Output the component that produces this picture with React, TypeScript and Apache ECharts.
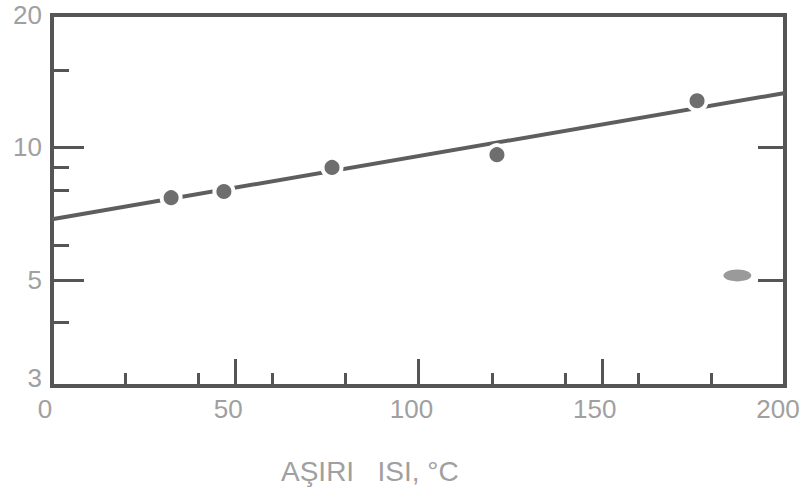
import React, { useEffect, useRef } from "react";
import * as echarts from "echarts";

// x: aşırı ısı (°C), y: logarithmic values
const trendX = [0, 200];
const trendY = [6.87, 13.3];
const pointX = [32.5, 46.9, 76.4, 121.4, 176];
const pointY = [7.69, 7.94, 9.01, 9.63, 12.77];
const smudgeX = [187];
const smudgeY = [5.12];

const yLabelValues = [3, 5, 10, 20];
const yLongTicks = [5, 10];
const yShortTicks = [4, 6, 8, 9, 15];
const yRightTicks = [5, 10];
const xLabelValues = [0, 50, 100, 150, 200];
const xLongTicks = [50, 100, 150];
const xShortTicks = [20, 40, 60, 80, 120, 140, 160, 180];
const xTitle = "AŞIRI   ISI, °C";

const Y_MIN = 2.87;
const Y_MAX = 20;
const lg = (v: number) => Math.log10(v);

const axisColor = "#555";
const textColor = "#a0a0a0";
const font = "Liberation Sans";

export default function App() {
  const ref = useRef<HTMLDivElement>(null);
  useEffect(() => {
    if (!ref.current) return;
    const chart = echarts.init(ref.current, undefined, { renderer: "svg" });
    const yBase = {
      type: "value" as const,
      min: lg(Y_MIN),
      max: lg(Y_MAX),
      splitLine: { show: false },
      axisLine: { show: false },
    };
    const xBase = {
      type: "value" as const,
      min: 0,
      max: 200,
      splitLine: { show: false },
      axisLine: { show: false },
      position: "bottom" as const,
    };
    chart.setOption({
      animation: false,
      backgroundColor: "#ffffff",
      title: {
        text: xTitle,
        left: 276,
        top: 452,
        textStyle: { color: textColor, fontFamily: font, fontSize: 28, fontWeight: "normal" },
      },
      grid: {
        left: 52,
        right: 18,
        top: 15,
        bottom: 106,
        show: true,
        borderColor: axisColor,
        borderWidth: 4,
        backgroundColor: "transparent",
      },
      xAxis: [
        {
          ...xBase,
          axisTick: {
            show: true,
            inside: true,
            length: 27,
            customValues: xLongTicks,
            lineStyle: { color: axisColor, width: 3 },
          },
          axisLabel: {
            show: true,
            customValues: xLabelValues,
            color: textColor,
            fontFamily: font,
            fontSize: 26,
            margin: 10,
            padding: [0, 14, 0, 0],
          },
        },
        {
          ...xBase,
          axisTick: {
            show: true,
            inside: true,
            length: 13,
            customValues: xShortTicks,
            lineStyle: { color: axisColor, width: 3 },
          },
          axisLabel: { show: false },
        },
      ],
      yAxis: [
        {
          ...yBase,
          position: "left",
          axisTick: {
            show: true,
            inside: true,
            length: 32,
            customValues: yLongTicks.map(lg),
            lineStyle: { color: axisColor, width: 3 },
          },
          axisLabel: {
            show: true,
            customValues: yLabelValues.map(lg),
            formatter: (v: number) => String(Math.round(Math.pow(10, v))),
            color: textColor,
            fontFamily: font,
            fontSize: 26,
            margin: 10,
          },
        },
        {
          ...yBase,
          position: "left",
          axisTick: {
            show: true,
            inside: true,
            length: 17,
            customValues: yShortTicks.map(lg),
            lineStyle: { color: axisColor, width: 3 },
          },
          axisLabel: { show: false },
        },
        {
          ...yBase,
          position: "right",
          axisTick: {
            show: true,
            inside: true,
            length: 27,
            customValues: yRightTicks.map(lg),
            lineStyle: { color: axisColor, width: 3 },
          },
          axisLabel: { show: false },
        },
      ],
      series: [
        {
          type: "line",
          name: "trend",
          xAxisIndex: 0,
          yAxisIndex: 0,
          data: trendX.map((x, i) => [x, lg(trendY[i])]),
          symbol: "none",
          lineStyle: { color: "#5e5e5e", width: 4 },
          z: 2,
        },
        {
          type: "scatter",
          name: "ölçüm",
          xAxisIndex: 0,
          yAxisIndex: 0,
          data: pointX.map((x, i) => [x, lg(pointY[i])]),
          symbol: "circle",
          symbolSize: 19,
          itemStyle: { color: "#6e6e6e", borderColor: "#ffffff", borderWidth: 4, opacity: 1 },
          z: 3,
        },
        {
          type: "scatter",
          name: "leke",
          xAxisIndex: 0,
          yAxisIndex: 0,
          data: smudgeX.map((x, i) => [x, lg(smudgeY[i])]),
          symbol: "circle",
          symbolSize: [28, 12],
          itemStyle: { color: "#9a9a9a", opacity: 1 },
          z: 3,
        },
      ],
    });
    return () => chart.dispose();
  }, []);
  return (
    <div
      ref={ref}
      style={{ position: "fixed", left: 0, top: 0, width: 803, height: 492, background: "#fff" }}
    />
  );
}
